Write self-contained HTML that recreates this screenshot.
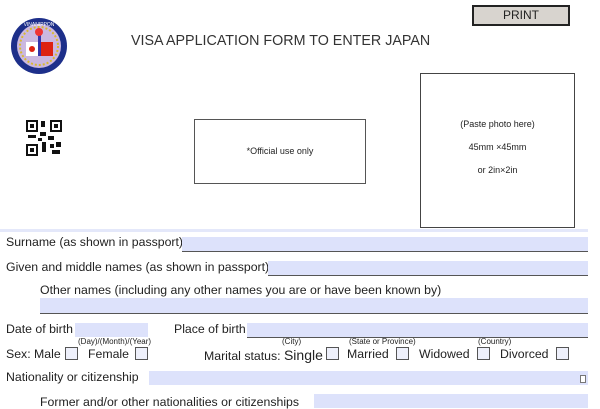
<!DOCTYPE html>
<html><head><meta charset="utf-8"><style>
body{margin:0;width:600px;height:400px;background:#fff;position:relative;overflow:hidden;font-family:"Liberation Sans",sans-serif;color:#222}
.a{position:absolute;white-space:nowrap}
.t{font-size:12.3px}
.f{position:absolute;background:#dde2fb;border-bottom:1px solid #555}
.cb{position:absolute;width:11px;height:11px;border:1px solid #555;background:#eef0fb}
.s{font-size:8px}
</style></head><body>
<svg class="a" style="left:0;top:0" width="80" height="80">
<circle cx="39" cy="46" r="28" fill="#1d2f8a"/>
<circle cx="39" cy="46" r="22" fill="#cbb8e0"/>
<circle cx="39" cy="46" r="19" fill="none" stroke="#d8b830" stroke-width="2" stroke-dasharray="2 2"/>
<rect x="26" y="42" width="12" height="14" fill="#fff"/>
<circle cx="32" cy="49" r="3" fill="#d21"/>
<rect x="40" y="42" width="13" height="14" fill="#d21"/>
<rect x="38" y="34" width="3" height="22" fill="#33a"/>
<circle cx="39" cy="32" r="4" fill="#e33"/>
<text x="39" y="26" font-size="5" fill="#fff" text-anchor="middle" font-family="Liberation Sans">VINANIPPON</text>
</svg>
<div class="a" style="left:472px;top:5px;width:94px;height:17px;border:2px solid #222;background:#d8d4cf;font-size:12px;text-align:center;line-height:17px">PRINT</div>
<div class="a" style="left:131px;top:33px;font-size:14.3px;color:#333">VISA APPLICATION FORM TO ENTER JAPAN</div>
<svg class="a" style="left:26px;top:120px" width="36" height="36">
<rect x="0" y="0" width="12" height="12" fill="#111"/><rect x="2" y="2" width="8" height="8" fill="#fff"/><rect x="4" y="4" width="4" height="4" fill="#111"/>
<rect x="24" y="0" width="12" height="12" fill="#111"/><rect x="26" y="2" width="8" height="8" fill="#fff"/><rect x="28" y="4" width="4" height="4" fill="#111"/>
<rect x="0" y="24" width="12" height="12" fill="#111"/><rect x="2" y="26" width="8" height="8" fill="#fff"/><rect x="4" y="28" width="4" height="4" fill="#111"/>
<rect x="15" y="1" width="4" height="6" fill="#111"/><rect x="14" y="12" width="6" height="4" fill="#111"/><rect x="22" y="16" width="6" height="4" fill="#111"/><rect x="2" y="15" width="8" height="3" fill="#111"/><rect x="16" y="22" width="4" height="10" fill="#111"/><rect x="24" y="24" width="4" height="4" fill="#111"/><rect x="30" y="22" width="5" height="5" fill="#111"/><rect x="26" y="30" width="8" height="4" fill="#111"/><rect x="12" y="18" width="4" height="3" fill="#111"/>
</svg>
<div class="a" style="left:194px;top:119px;width:170px;height:63px;border:1px solid #555;font-size:9px;text-align:center;line-height:63px">*Official use only</div>
<div class="a" style="left:420px;top:73px;width:153px;height:153px;border:1px solid #444;font-size:9px;text-align:center">
<div style="margin-top:45px">(Paste photo here)</div><div style="margin-top:13px">45mm ×45mm</div><div style="margin-top:13px">or 2in×2in</div></div>
<div class="a" style="left:0;top:229px;width:588px;height:3px;background:#e4e8fa"></div>

<div class="a t" style="left:6px;top:235px">Surname (as shown in passport)</div>
<div class="f" style="left:182px;top:237px;width:406px;height:14px"></div>
<div class="a t" style="left:6px;top:260px">Given and middle names (as shown in passport)</div>
<div class="f" style="left:268px;top:261px;width:320px;height:14px"></div>
<div class="a t" style="left:40px;top:283px">Other names (including any other names you are or have been known by)</div>
<div class="f" style="left:40px;top:298px;width:548px;height:15px"></div>
<div class="a t" style="left:6px;top:322px">Date of birth</div>
<div class="f" style="left:75px;top:323px;width:73px;height:14px;border-bottom:none"></div>
<div class="a t" style="left:174px;top:322px">Place of birth</div>
<div class="f" style="left:247px;top:323px;width:341px;height:14px"></div>
<div class="a s" style="left:78px;top:337px">(Day)/(Month)/(Year)</div>
<div class="a s" style="left:282px;top:337px">(City)</div>
<div class="a s" style="left:349px;top:337px">(State or Province)</div>
<div class="a s" style="left:478px;top:337px">(Country)</div>
<div class="a t" style="left:6px;top:347px">Sex: Male</div>
<div class="cb" style="left:65px;top:347px"></div>
<div class="a t" style="left:88px;top:347px">Female</div>
<div class="cb" style="left:135px;top:347px"></div>
<div class="a t" style="left:204px;top:347px">Marital status: <span style="font-size:14px">Single</span></div>
<div class="cb" style="left:326px;top:347px"></div>
<div class="a t" style="left:347px;top:347px">Married</div>
<div class="cb" style="left:396px;top:347px"></div>
<div class="a t" style="left:419px;top:347px">Widowed</div>
<div class="cb" style="left:477px;top:347px"></div>
<div class="a t" style="left:500px;top:347px">Divorced</div>
<div class="cb" style="left:556px;top:347px"></div>
<div class="a t" style="left:6px;top:370px">Nationality or citizenship</div>
<div class="f" style="left:149px;top:371px;width:439px;height:14px;border-bottom:none"></div>
<div class="a" style="left:580px;top:375px;width:4px;height:6px;border:1px solid #777;background:#fff"></div>
<div class="a t" style="left:40px;top:395px">Former and/or other nationalities or citizenships</div>
<div class="f" style="left:314px;top:394px;width:274px;height:14px;border-bottom:none"></div>
</body></html>
